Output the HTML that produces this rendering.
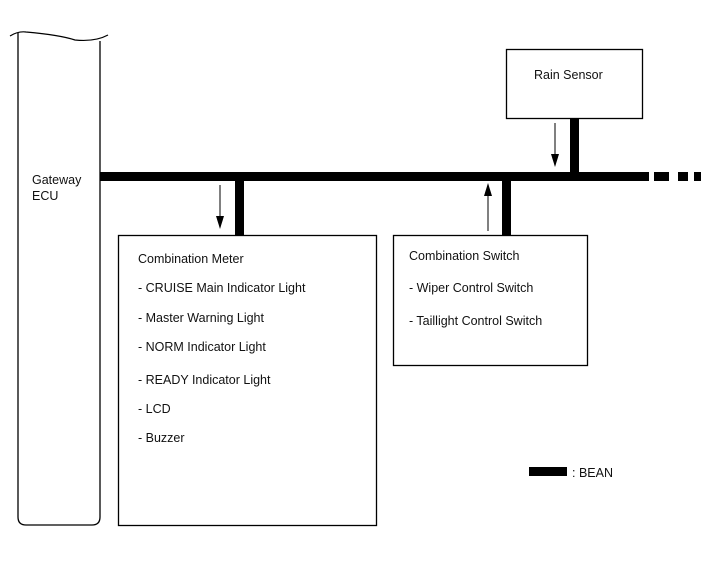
<!DOCTYPE html>
<html><head><meta charset="utf-8"><style>body{margin:0;background:#fff}svg{display:block}text{font-family:"Liberation Sans",sans-serif;font-size:12.5px;fill:#111}</style></head>
<body>
<svg width="713" height="581" viewBox="0 0 713 581" xmlns="http://www.w3.org/2000/svg">
<path d="M10 36 Q18 31 26 32 Q60 35 75 40 Q95 42 108 35" fill="none" stroke="#000" stroke-width="1.2"/>
<path d="M18 33 L18 517 Q18 525 26 525 L92 525 Q100 525 100 517 L100 41" fill="none" stroke="#000" stroke-width="1.3"/>
<text x="32" y="184">Gateway</text>
<text x="32" y="200">ECU</text>
<rect x="100" y="172" width="549" height="9" fill="#000"/>
<rect x="654" y="172" width="15" height="9" fill="#000"/>
<rect x="678" y="172" width="10" height="9" fill="#000"/>
<rect x="694" y="172" width="7" height="9" fill="#000"/>
<rect x="235" y="176" width="9" height="60" fill="#000"/>
<rect x="502" y="176" width="9" height="60" fill="#000"/>
<rect x="570" y="117" width="9" height="60" fill="#000"/>
<rect x="118.5" y="235.5" width="258" height="290" fill="#fff" stroke="#000" stroke-width="1.3"/>
<rect x="393.5" y="235.5" width="194" height="130" fill="#fff" stroke="#000" stroke-width="1.3"/>
<rect x="506.5" y="49.5" width="136" height="69" fill="#fff" stroke="#000" stroke-width="1.3"/>
<line x1="220" y1="185" x2="220" y2="218" stroke="#000"/><polygon points="216,216 224,216 220,229" fill="#000"/>
<line x1="488" y1="231" x2="488" y2="194" stroke="#000"/><polygon points="484,196 492,196 488,183" fill="#000"/>
<line x1="555" y1="123" x2="555" y2="156" stroke="#000"/><polygon points="551,154 559,154 555,167" fill="#000"/>
<text x="534" y="79">Rain Sensor</text>
<text x="138" y="263">Combination Meter</text>
<text x="138" y="292">- CRUISE Main Indicator Light</text>
<text x="138" y="322">- Master Warning Light</text>
<text x="138" y="351">- NORM Indicator Light</text>
<text x="138" y="384">- READY Indicator Light</text>
<text x="138" y="413">- LCD</text>
<text x="138" y="442">- Buzzer</text>
<text x="409" y="260">Combination Switch</text>
<text x="409" y="292">- Wiper Control Switch</text>
<text x="409" y="325">- Taillight Control Switch</text>
<rect x="529" y="467" width="38" height="9" fill="#000"/>
<text x="572" y="477">: BEAN</text>
</svg>
</body></html>
